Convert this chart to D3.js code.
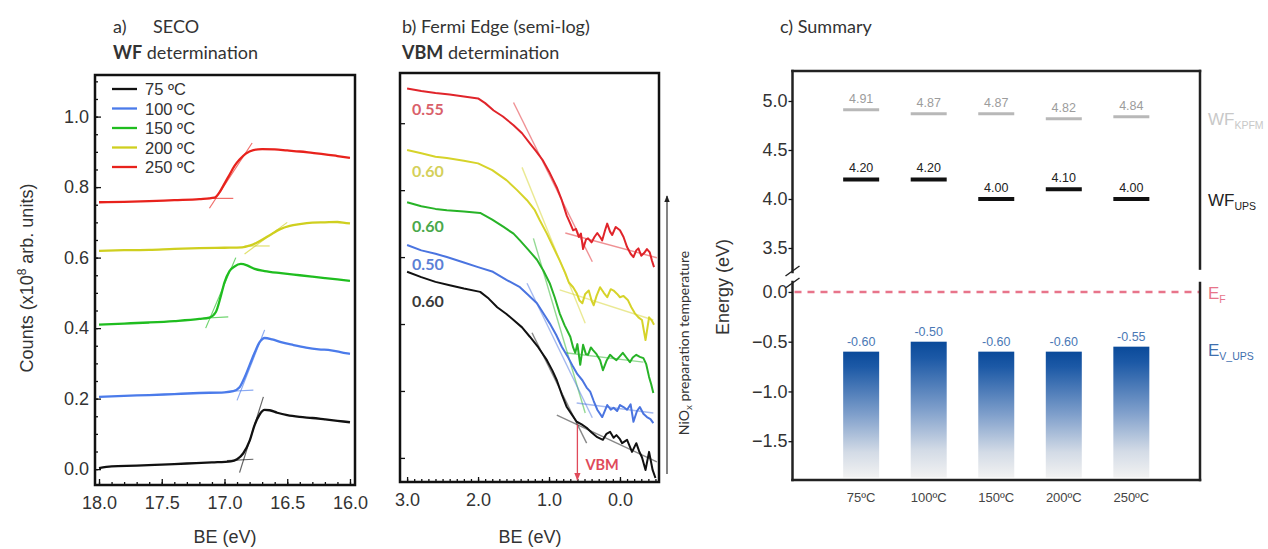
<!DOCTYPE html>
<html><head><meta charset="utf-8">
<script src="https://cdn.jsdelivr.net/npm/d3@7"></script>
<style>body{margin:0;background:#fff}svg{display:block}</style>
</head><body>
<svg id="c" width="1268" height="549"></svg>
<script>
// ---------- Panel a: SECO (BE eV, counts x1e8) ----------
const secoLabels = ["75 ºC","100 ºC","150 ºC","200 ºC","250 ºC"];
const seco75 = [[18.0,0.003],[17.9,0.008],[17.7,0.010],[17.5,0.013],[17.3,0.016],[17.1,0.019],[16.95,0.022],[16.90,0.028],[16.85,0.045],[16.80,0.080],[16.76,0.125],[16.72,0.155],[16.68,0.168],[16.64,0.167],[16.58,0.160],[16.5,0.153],[16.4,0.148],[16.3,0.145],[16.2,0.141],[16.1,0.137],[16.0,0.133]];
const seco100 = [[18.0,0.205],[17.8,0.208],[17.6,0.210],[17.4,0.213],[17.2,0.216],[17.0,0.218],[16.93,0.221],[16.88,0.232],[16.84,0.26],[16.80,0.295],[16.76,0.33],[16.72,0.36],[16.68,0.372],[16.62,0.368],[16.55,0.360],[16.45,0.352],[16.35,0.345],[16.25,0.340],[16.15,0.337],[16.05,0.330],[16.0,0.327]];
const seco150 = [[18.0,0.41],[17.8,0.413],[17.6,0.416],[17.4,0.42],[17.2,0.426],[17.12,0.43],[17.07,0.445],[17.03,0.49],[17.0,0.53],[16.96,0.562],[16.92,0.575],[16.87,0.582],[16.82,0.578],[16.76,0.568],[16.68,0.562],[16.55,0.556],[16.4,0.55],[16.3,0.546],[16.2,0.542],[16.1,0.538],[16.0,0.534]];
const seco200 = [[18.0,0.619],[17.8,0.621],[17.6,0.622],[17.4,0.625],[17.2,0.627],[17.0,0.628],[16.86,0.629],[16.80,0.634],[16.74,0.643],[16.68,0.655],[16.62,0.668],[16.56,0.680],[16.48,0.690],[16.40,0.695],[16.30,0.699],[16.2,0.700],[16.1,0.701],[16.03,0.698],[16.0,0.697]];
const seco250 = [[18.0,0.757],[17.8,0.758],[17.6,0.760],[17.4,0.763],[17.2,0.766],[17.08,0.770],[17.04,0.785],[17.0,0.81],[16.96,0.835],[16.92,0.86],[16.88,0.878],[16.83,0.895],[16.77,0.905],[16.7,0.908],[16.6,0.907],[16.5,0.904],[16.4,0.901],[16.3,0.897],[16.2,0.893],[16.1,0.888],[16.0,0.883]];
const secoTangents = [
  [[[16.98,0.024],[16.77,0.028]],[[16.88,-0.01],[16.69,0.205]]],
  [[[16.95,0.221],[16.77,0.224]],[[16.90,0.195],[16.68,0.395]]],
  [[[17.17,0.428],[16.97,0.432]],[[17.15,0.40],[16.91,0.60]]],
  [[[16.84,0.633],[16.64,0.633]],[[16.84,0.61],[16.5,0.70]]],
  [[[17.13,0.768],[16.93,0.768]],[[17.12,0.74],[16.78,0.925]]]
];
const secoXTicks = [18.0,17.5,17.0,16.5,16.0];
const secoYTicks = [0.0,0.2,0.4,0.6,0.8,1.0];

// ---------- Panel b: Fermi edge, semi-log (BE eV, log counts, arb.) ----------
const fermiRed = [[3.0,6.52],[2.8,6.48],[2.6,6.45],[2.4,6.43],[2.2,6.40],[2.0,6.37],[1.9,6.30],[1.78,6.19],[1.65,6.10],[1.5,5.97],[1.38,5.85],[1.27,5.70],[1.18,5.58],[1.09,5.45],[1.0,5.28],[0.94,5.15],[0.89,5.04],[0.82,4.85],[0.75,4.62],[0.70,4.50],[0.66,4.40],[0.62,4.42],[0.58,4.30],[0.55,4.35],[0.52,4.12],[0.48,4.26],[0.45,4.28],[0.40,4.22],[0.36,4.30],[0.32,4.36],[0.28,4.30],[0.25,4.25],[0.21,4.40],[0.18,4.50],[0.14,4.38],[0.11,4.33],[0.06,4.45],[0.0,4.40],[-0.05,4.30],[-0.1,4.15],[-0.15,4.05],[-0.19,4.00],[-0.23,4.10],[-0.26,4.13],[-0.30,4.02],[-0.34,4.06],[-0.38,4.12],[-0.42,4.07],[-0.45,3.95],[-0.48,3.85]];
const fermiYellow = [[3.0,5.60],[2.8,5.55],[2.6,5.50],[2.44,5.48],[2.2,5.44],[2.0,5.40],[1.8,5.30],[1.6,5.15],[1.45,5.00],[1.31,4.85],[1.2,4.70],[1.13,4.55],[1.03,4.35],[0.94,4.15],[0.85,3.95],[0.77,3.76],[0.72,3.62],[0.66,3.55],[0.61,3.46],[0.57,3.35],[0.53,3.31],[0.49,3.45],[0.44,3.50],[0.40,3.35],[0.37,3.28],[0.33,3.42],[0.28,3.55],[0.23,3.47],[0.18,3.40],[0.13,3.52],[0.09,3.50],[0.04,3.45],[0.0,3.40],[-0.05,3.42],[-0.11,3.36],[-0.16,3.25],[-0.21,3.16],[-0.26,3.10],[-0.31,3.06],[-0.36,2.76],[-0.41,3.10],[-0.45,3.05],[-0.48,2.99]];
const fermiGreen = [[3.0,4.82],[2.8,4.76],[2.6,4.72],[2.44,4.70],[2.2,4.68],[1.97,4.66],[1.8,4.56],[1.64,4.45],[1.5,4.35],[1.41,4.25],[1.3,4.12],[1.17,3.96],[1.08,3.80],[0.99,3.61],[0.92,3.40],[0.85,3.16],[0.78,2.98],[0.70,2.81],[0.66,2.65],[0.63,2.57],[0.60,2.70],[0.56,2.39],[0.52,2.69],[0.48,2.55],[0.45,2.54],[0.41,2.65],[0.38,2.61],[0.33,2.55],[0.28,2.46],[0.24,2.31],[0.19,2.45],[0.14,2.54],[0.10,2.50],[0.05,2.46],[0.0,2.52],[-0.04,2.57],[-0.09,2.50],[-0.14,2.43],[-0.18,2.50],[-0.23,2.54],[-0.28,2.51],[-0.33,2.49],[-0.37,2.40],[-0.41,2.21],[-0.44,2.10],[-0.47,1.97]];
const fermiBlue = [[3.0,4.18],[2.8,4.10],[2.6,4.05],[2.44,4.00],[2.2,3.92],[2.0,3.85],[1.79,3.78],[1.6,3.66],[1.41,3.55],[1.3,3.44],[1.17,3.31],[1.08,3.16],[0.99,3.01],[0.90,2.84],[0.82,2.66],[0.74,2.52],[0.66,2.36],[0.60,2.25],[0.53,2.16],[0.47,2.05],[0.42,1.99],[0.37,1.85],[0.32,1.72],[0.25,1.61],[0.18,1.79],[0.13,1.72],[0.09,1.75],[0.04,1.70],[0.0,1.79],[-0.05,1.76],[-0.1,1.72],[-0.15,1.80],[-0.19,1.54],[-0.24,1.70],[-0.28,1.76],[-0.33,1.66],[-0.38,1.61],[-0.43,1.58],[-0.47,1.52]];
const fermiBlack = [[3.0,3.78],[2.8,3.70],[2.6,3.63],[2.4,3.58],[2.2,3.53],[1.97,3.48],[1.85,3.38],[1.73,3.25],[1.6,3.15],[1.5,3.06],[1.38,2.95],[1.27,2.81],[1.15,2.65],[1.03,2.46],[0.95,2.30],[0.89,2.16],[0.82,1.95],[0.75,1.76],[0.68,1.65],[0.61,1.54],[0.54,1.50],[0.47,1.45],[0.40,1.38],[0.32,1.31],[0.24,1.27],[0.19,1.36],[0.14,1.39],[0.09,1.30],[0.05,1.34],[0.0,1.28],[-0.03,1.22],[-0.1,1.27],[-0.17,1.09],[-0.23,1.22],[-0.27,1.10],[-0.31,1.01],[-0.36,0.82],[-0.41,1.09],[-0.46,0.82],[-0.5,0.70]];
const fermiTangents = [
  [[[1.5,6.31],[0.39,3.93]],[[0.77,4.36],[-0.52,3.99]]],
  [[[1.38,5.34],[0.49,3.01]],[[0.85,3.51],[-0.47,3.06]]],
  [[[1.22,4.28],[0.49,1.67]],[[0.77,2.57],[-0.33,2.43]]],
  [[[1.31,3.61],[0.39,1.60]],[[0.61,1.82],[-0.47,1.67]]],
  [[[1.24,2.87],[0.47,1.22]],[[0.89,1.64],[-0.52,0.94]]]
];
const vbmValues = ["0.55","0.60","0.60","0.50","0.60"];
const vbmLabelY = [6.12,5.19,4.37,3.81,3.25];
const fermiXTicks = [3.0,2.0,1.0,0.0];
const fermiYTicks = [1,2,3,4,5,6];
const vbmMarker = 0.6;

// ---------- Panel c: summary ----------
const categories = ["75ºC","100ºC","150ºC","200ºC","250ºC"];
const wfKpfm = [4.91,4.87,4.87,4.82,4.84];
const wfUps = [4.20,4.20,4.00,4.10,4.00];
const evUps = [-0.60,-0.50,-0.60,-0.60,-0.55];
const upperTicks = [3.5,4.0,4.5,5.0];
const lowerTicks = [-1.5,-1.0,-0.5,0.0];

// ---------------------------------------------------------------
const AR = "'Liberation Sans', Arial, sans-serif";
const CAL = "Lato, 'Open Sans', sans-serif";
const svg = d3.select("#c");
const defs = svg.append("defs");

function arrow(id, color){
  defs.append("marker").attr("id",id).attr("viewBox","0 0 10 10").attr("refX",9).attr("refY",5)
    .attr("markerWidth",6).attr("markerHeight",6).attr("orient","auto-start-reverse")
    .append("path").attr("d","M0,1 L10,5 L0,9 z").attr("fill",color);
}
arrow("arrBlack","#222"); arrow("arrRed","#e04a5a");

function styleAxis(g, size, color){
  g.select(".domain").remove();
  g.selectAll("text").attr("font-family",AR).attr("font-size",size).attr("fill",color||"#333");
  g.selectAll("line").attr("stroke","#111").attr("stroke-width",1.3);
}

// ================= Panel a =================
const xA = d3.scaleLinear().domain([18.032,15.96]).range([95,355]);
const yA = d3.scaleLinear().domain([-0.045,1.118]).range([485,75]);
const gA = svg.append("g");
const minorAx = d3.range(0,21).map(i=>18-i*0.1);
const minorAy = d3.range(0,23).map(i=>i*0.05);
gA.append("g").attr("transform","translate(0,485)").call(d3.axisBottom(xA).tickValues(minorAx).tickSize(-3).tickFormat("")).call(g=>styleAxis(g,18));
gA.append("g").attr("transform","translate(0,485)").call(d3.axisBottom(xA).tickValues(secoXTicks).tickSize(-6).tickPadding(11).tickFormat(d3.format(".1f"))).call(g=>styleAxis(g,18));
gA.append("g").attr("transform","translate(95,0)").call(d3.axisLeft(yA).tickValues(minorAy).tickSize(-3).tickFormat("")).call(g=>styleAxis(g,18));
gA.append("g").attr("transform","translate(95,0)").call(d3.axisLeft(yA).tickValues(secoYTicks).tickSize(-6).tickPadding(6).tickFormat(d3.format(".1f"))).call(g=>styleAxis(g,18));
gA.append("rect").attr("x",95).attr("y",75).attr("width",260).attr("height",410).attr("fill","none").attr("stroke","#111").attr("stroke-width",2.5);

const secoColors = ["#111111","#4b7bea","#1fbd1f","#cfcf1f","#e8221c"];
const secoSeries = [seco75,seco100,seco150,seco200,seco250];
const lineA = d3.line().x(d=>xA(d[0])).y(d=>yA(d[1])).curve(d3.curveMonotoneX);
const lineAt = d3.line().x(d=>xA(d[0])).y(d=>yA(d[1]));
secoSeries.forEach((s,i)=>{
  secoTangents[i].forEach(t=>gA.append("path").attr("d",lineAt(t)).attr("fill","none")
    .attr("stroke",secoColors[i]).attr("stroke-width",1.2).attr("stroke-opacity",0.65));
  gA.append("path").attr("d",lineA(s)).attr("fill","none").attr("stroke",secoColors[i]).attr("stroke-width",2.3);
});
// legend
secoLabels.forEach((l,i)=>{
  const y = 89 + i*19.5;
  gA.append("line").attr("x1",112).attr("x2",137).attr("y1",y).attr("y2",y).attr("stroke",secoColors[i]).attr("stroke-width",2.3);
  gA.append("text").attr("x",145).attr("y",y+6).attr("font-family",AR).attr("font-size",16.5).attr("fill","#333").text(l);
});
// titles
svg.append("text").attr("x",113).attr("y",33).attr("font-family",CAL).attr("font-size",18).attr("fill","#333").text("a)");
svg.append("text").attr("x",153).attr("y",33).attr("font-family",CAL).attr("font-size",18).attr("fill","#333").text("SECO");
const tA = svg.append("text").attr("x",113).attr("y",59).attr("font-family",CAL).attr("font-size",18).attr("fill","#333");
tA.append("tspan").attr("font-weight","bold").text("WF");
tA.append("tspan").text(" determination");
svg.append("text").attr("x",225).attr("y",543).attr("text-anchor","middle").attr("font-family",AR).attr("font-size",18).attr("fill","#333").text("BE (eV)");
const cl = svg.append("text").attr("transform","translate(33,278) rotate(-90)").attr("text-anchor","middle").attr("font-family",AR).attr("font-size",18).attr("fill","#333");
cl.append("tspan").text("Counts (x10");
cl.append("tspan").attr("font-size",12).attr("baseline-shift","7").text("8");
cl.append("tspan").text(" arb. units)");

// ================= Panel b =================
const xB = d3.scaleLinear().domain([3.1,-0.55]).range([400,659]);
const yB = d3.scaleLinear().domain([0.64,6.75]).range([482,73]);
const gB = svg.append("g");
const minorBx = d3.range(0,36).map(i=>3.0-i*0.1);
gB.append("g").attr("transform","translate(0,482)").call(d3.axisBottom(xB).tickValues(minorBx).tickSize(-3).tickFormat("")).call(g=>styleAxis(g,18));
gB.append("g").attr("transform","translate(0,482)").call(d3.axisBottom(xB).tickValues(fermiXTicks).tickSize(-5).tickPadding(11).tickFormat(d3.format(".1f"))).call(g=>styleAxis(g,18));
gB.append("g").attr("transform","translate(400,0)").call(d3.axisLeft(yB).tickValues(fermiYTicks).tickSize(-5).tickFormat("")).call(g=>styleAxis(g,18));
gB.append("rect").attr("x",400).attr("y",73).attr("width",259).attr("height",409).attr("fill","none").attr("stroke","#111").attr("stroke-width",2.5);

const fermiSeries = [fermiRed,fermiYellow,fermiGreen,fermiBlue,fermiBlack];
const fermiColors = ["#e0242a","#d6d32a","#27b327","#4a74e0","#111111"];
const fermiLabelColors = ["#d9606a","#d4d05a","#4aa84a","#5b7fd6","#3a3a3a"];
const lineB = d3.line().x(d=>xB(d[0])).y(d=>yB(d[1]));
fermiSeries.forEach((s,i)=>{
  gB.append("path").attr("d",lineB(s)).attr("fill","none").attr("stroke",fermiColors[i]).attr("stroke-width",2).attr("stroke-linejoin","round");
  fermiTangents[i].forEach(t=>gB.append("path").attr("d",lineB(t)).attr("fill","none")
    .attr("stroke",fermiColors[i]).attr("stroke-width",1.4).attr("stroke-opacity",0.5));
  gB.append("text").attr("x",xB(2.93)).attr("y",yB(vbmLabelY[i])).attr("font-family",CAL).attr("font-size",16)
    .attr("font-weight","bold").attr("fill",fermiLabelColors[i]).text(vbmValues[i]);
});
// VBM arrow
gB.append("line").attr("x1",xB(vbmMarker)).attr("x2",xB(vbmMarker)).attr("y1",yB(1.5)).attr("y2",480)
  .attr("stroke","#e04a5a").attr("stroke-width",1.3).attr("marker-end","url(#arrRed)");
gB.append("text").attr("x",xB(vbmMarker)+8).attr("y",470).attr("font-family",CAL).attr("font-size",14.5).attr("font-weight","bold").attr("fill","#e04a5a").text("VBM");
// temperature arrow
gB.append("line").attr("x1",667).attr("x2",667).attr("y1",474).attr("y2",196).attr("stroke","#333").attr("stroke-width",1.2).attr("marker-end","url(#arrBlack)");
const nl = gB.append("text").attr("transform","translate(689,343) rotate(-90)").attr("text-anchor","middle").attr("font-family",CAL).attr("font-size",14).attr("fill","#333");
nl.append("tspan").text("NiO");
nl.append("tspan").attr("font-size",10).attr("baseline-shift","-3").text("x");
nl.append("tspan").text(" preparation temperature");
const tB1 = svg.append("text").attr("x",402).attr("y",33).attr("font-family",CAL).attr("font-size",18).attr("fill","#333").text("b) Fermi Edge (semi-log)");
const tB = svg.append("text").attr("x",402).attr("y",59).attr("font-family",CAL).attr("font-size",18).attr("fill","#333");
tB.append("tspan").attr("font-weight","bold").text("VBM");
tB.append("tspan").text(" determination");
svg.append("text").attr("x",530).attr("y",543).attr("text-anchor","middle").attr("font-family",AR).attr("font-size",18).attr("fill","#333").text("BE (eV)");

// ================= Panel c =================
const cL = 792.5, cR = 1200, cT = 71, cB = 480;
const xC = d3.scaleBand().domain(categories).range([cL,cR]).paddingInner(0.467).paddingOuter(0.75);
const yCu = d3.scaleLinear().domain([3.255,5.306]).range([272,71]);
const yCl = d3.scaleLinear().domain([-1.89,0.1]).range([480,282]);
const gC = svg.append("g");

const grad = defs.append("linearGradient").attr("id","barGrad").attr("x1",0).attr("y1",0).attr("x2",0).attr("y2",1);
[[0,"#0a4a9a"],[0.12,"#1c59a6"],[0.5,"#7f9fcb"],[0.8,"#d3dbe6"],[1,"#f2f2f2"]].forEach(s=>
  grad.append("stop").attr("offset",s[0]).attr("stop-color",s[1]));

// bars
categories.forEach((c,i)=>{
  gC.append("rect").attr("x",xC(c)).attr("y",yCl(evUps[i])).attr("width",xC.bandwidth())
    .attr("height",yCl(-1.865)-yCl(evUps[i])).attr("fill","url(#barGrad)");
  gC.append("text").attr("x",xC(c)+xC.bandwidth()/2).attr("y",yCl(evUps[i])-6).attr("text-anchor","middle")
    .attr("font-family",AR).attr("font-size",12.5).attr("fill","#4a78b5").text(evUps[i].toFixed(2));
  gC.append("line").attr("x1",xC(c)).attr("x2",xC(c)+xC.bandwidth()).attr("y1",yCu(wfKpfm[i])).attr("y2",yCu(wfKpfm[i]))
    .attr("stroke","#b8b8b8").attr("stroke-width",3);
  gC.append("text").attr("x",xC(c)+xC.bandwidth()/2).attr("y",yCu(wfKpfm[i])-7).attr("text-anchor","middle")
    .attr("font-family",AR).attr("font-size",12.5).attr("fill","#9c9c9c").text(wfKpfm[i].toFixed(2));
  gC.append("line").attr("x1",xC(c)).attr("x2",xC(c)+xC.bandwidth()).attr("y1",yCu(wfUps[i])).attr("y2",yCu(wfUps[i]))
    .attr("stroke","#111").attr("stroke-width",4);
  gC.append("text").attr("x",xC(c)+xC.bandwidth()/2).attr("y",yCu(wfUps[i])-7).attr("text-anchor","middle")
    .attr("font-family",AR).attr("font-size",12.5).attr("fill","#222").text(wfUps[i].toFixed(2));
});
// Fermi level
gC.append("line").attr("x1",cL+2).attr("x2",cR).attr("y1",yCl(0)).attr("y2",yCl(0))
  .attr("stroke","#e8748a").attr("stroke-width",2.6).attr("stroke-dasharray","7,6");
// frame with break
const fr = "#222";
[[cL,cT,cR,cT],[cL,cB,cR,cB],[cL,cT,cL,yCu(3.255)],[cL,yCl(0.1),cL,cB],[cR,cT,cR,yCu(3.29)],[cR,yCl(0.09),cR,cB]].forEach(l=>
  gC.append("line").attr("x1",l[0]).attr("y1",l[1]).attr("x2",l[2]).attr("y2",l[3]).attr("stroke",fr).attr("stroke-width",2.5).attr("stroke-linecap","square"));
gC.append("line").attr("x1",cL-7).attr("y1",yCu(3.255)+4).attr("x2",cL+7).attr("y2",yCu(3.255)-6).attr("stroke",fr).attr("stroke-width",1.5);
gC.append("line").attr("x1",cL-7).attr("y1",yCl(0.1)+6).attr("x2",cL+7).attr("y2",yCl(0.1)-4).attr("stroke",fr).attr("stroke-width",1.5);
// axes
gC.append("g").attr("transform",`translate(${cL},0)`).call(d3.axisLeft(yCu).tickValues(upperTicks).tickSize(4).tickPadding(1).tickFormat(d3.format(".1f"))).call(g=>styleAxis(g,18));
gC.append("g").attr("transform",`translate(${cL},0)`).call(d3.axisLeft(yCl).tickValues(lowerTicks).tickSize(4).tickPadding(1).tickFormat(d3.format(".1f"))).call(g=>styleAxis(g,18));
gC.append("g").attr("transform",`translate(0,${cB})`).call(d3.axisBottom(xC).tickSize(0).tickPadding(13)).call(g=>styleAxis(g,13,"#444"));
// right labels
function sublabel(x,y,main,sub,color){
  const t = gC.append("text").attr("x",x).attr("y",y).attr("font-family",AR).attr("font-size",17).attr("fill",color);
  t.append("tspan").text(main);
  t.append("tspan").attr("font-size",10.5).attr("baseline-shift","-4").text(sub);
}
sublabel(1208,125,"WF","KPFM","#c8c8c8");
sublabel(1208,206,"WF","UPS","#222");
sublabel(1208,299,"E","F","#e8748a");
sublabel(1208,356,"E","V_UPS","#3f6fae");
svg.append("text").attr("transform","translate(729,287) rotate(-90)").attr("text-anchor","middle").attr("font-family",AR).attr("font-size",18).attr("fill","#333").text("Energy (eV)");
svg.append("text").attr("x",780).attr("y",33).attr("font-family",CAL).attr("font-size",18).attr("fill","#333").text("c) Summary");
</script>
</body></html>
